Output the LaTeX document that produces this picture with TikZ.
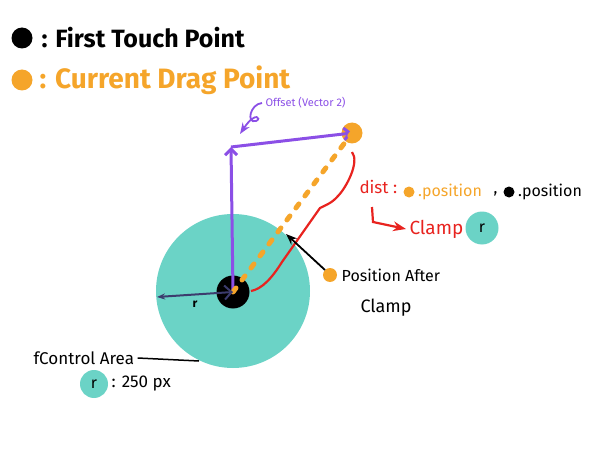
\documentclass[tikz,border=0pt]{standalone}
\usepackage{fontspec}
\setmainfont{Fira Sans}
\usepackage{xcolor}
\usetikzlibrary{arrows.meta,positioning}
\definecolor{areateal}{HTML}{6BD3C6}
\definecolor{dragorange}{HTML}{F5A52A}
\definecolor{offsetpurple}{HTML}{8B4FE6}
\definecolor{clampred}{HTML}{E8231F}
\definecolor{radiusnavy}{HTML}{3C3C6E}
\tikzset{
  dot/.style={circle,inner sep=0pt},
  legend/.style={anchor=west,font=\fontsize{25}{27}\selectfont\bfseries},
  note/.style={anchor=west,font=\fontsize{16}{18}\selectfont},
}
\begin{document}
\begin{tikzpicture}[x=1pt,y=-1pt,>=Stealth]
\useasboundingbox (0,0) rectangle (590,452);
% legend
\node[dot,fill=black,minimum size=21pt](touchkey) at (22,38){};
\node[legend](touchtext) at (38,38){: First Touch Point};
\node[dot,fill=dragorange,minimum size=21pt](dragkey) at (22,80){};
\node[legend,text=dragorange,font=\fontsize{28}{30}\selectfont\bfseries](dragtext) at (36,80){: Current Drag Point};
% control area
\node[dot,fill=areateal,minimum size=154pt](area) at (233,291){};
\node[dot,fill=black,minimum size=33pt](touch) at (233,292){};
\node[dot,fill=dragorange,minimum size=21pt](drag) at (352,133){};
\coordinate(corner) at (231,147);
\coordinate(rim) at (157,297);
\coordinate(cut) at (286,234);
% offset
\draw[offsetpurple,line width=3pt,-{Straight Barb[length=6pt]}](touch.center)--(corner);
\draw[offsetpurple,line width=3pt,-{Straight Barb[length=6pt]}](corner)--(drag.center);
\node[anchor=west,text=offsetpurple,font=\fontsize{11}{13}\selectfont](offset) at (262,103){Offset (Vector 2)};
\draw[offsetpurple,line width=1.8pt,->](offset.west) .. controls (250,104) and (246,124) .. (256,121)
  .. controls (262,119) and (256,110) .. (240,134);
% drag line
\draw[dragorange,line width=5pt,line cap=round,dash pattern=on 5pt off 10pt](touch.center)--(drag.center);
% radius
\draw[radiusnavy,line width=2pt,{Stealth[length=8pt]}-{Straight Barb[length=7pt]}](rim)--(touch.center)
  node[pos=0.5,below=2pt,black,font=\fontsize{12}{13}\selectfont\bfseries]{r};
% dist brace
\coordinate(bracetop) at (352,152);
\coordinate(braceend) at (251,291);
\draw[clampred,line width=2.2pt](bracetop) .. controls (360,162) and (346,188) .. (338,196)
  .. controls (332,203) and (326,205) .. (320,208) -- (282,262)
  .. controls (272,278) and (262,289) .. (braceend);
\node[note,text=clampred,font=\fontsize{17}{19}\selectfont](dist) at (356,187){dist :};
\node[dot,fill=dragorange,minimum size=11pt](dragmini) at (409,192){};
\node[note,text=dragorange,right=0pt of dragmini](dragpos){.position};
\node[note](comma) at (490,194){,};
\node[dot,fill=black,minimum size=11pt](touchmini) at (509,192){};
\node[note,right=0pt of touchmini](touchpos){.position};
\node[note,text=clampred,font=\fontsize{19}{21}\selectfont](clamp) at (406,229){Clamp};
\node[dot,fill=areateal,minimum size=33pt](clampr) at (482,228){\fontsize{16}{18}\selectfont r};
\draw[clampred,line width=2.2pt,->](372,207)--(373,222)--(clamp.west);
% position after clamp
\node[dot,fill=dragorange,minimum size=14pt](after) at (330,275){};
\node[note,right=1pt of after](aftertext){Position After};
\node[note,font=\fontsize{18}{20}\selectfont](aftertext2) at (357,308){Clamp};
\draw[line width=1.8pt,->](after.north west)--(cut);
% area label
\node[note,font=\fontsize{17}{19}\selectfont](areatext) at (30,358){fControl Area};
\draw[line width=1.5pt](areatext.east)--(199,361);
\node[dot,fill=areateal,minimum size=28pt](arear) at (94,384){\fontsize{16}{18}\selectfont r};
\node[note,font=\fontsize{17}{19}\selectfont,right=0pt of arear](areavalue){: 250 px};
\end{tikzpicture}
\end{document}
